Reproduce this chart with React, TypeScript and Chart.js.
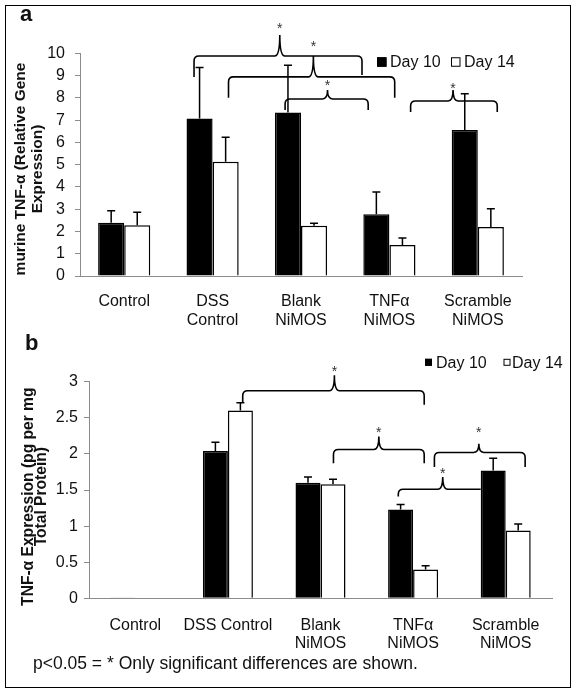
import React, { useEffect, useRef } from "react";
import { Chart, registerables } from "chart.js";

Chart.register(...registerables);

// ---------- data ----------
const seriesNames = ["Day 10", "Day 14"];

// panel a
const categoriesA = [["Control"], ["DSS", "Control"], ["Blank", "NiMOS"], ["TNFα", "NiMOS"], ["Scramble", "NiMOS"]];
const day10A = [2.39, 7.07, 7.34, 2.77, 6.56];
const day14A = [2.28, 5.13, 2.26, 1.39, 2.2];
const day10ErrA = [0.54, 2.29, 2.12, 1.0, 1.62];
const day14ErrA = [0.58, 1.1, 0.11, 0.32, 0.82];
const yTicksA = { min: 0, max: 10, step: 1 };
const yTitleA = ["murine TNF-α (Relative Gene", "Expression)"];

// significance brackets, panel a (x in category units, y in data units)
const brStartA = [0.79, 1.18, 1.82, 3.24];
const brEndA = [2.69, 3.06, 2.76, 4.22];
const brMidA = [1.76, 2.14, 2.3, 3.72];
const brLevelA = [9.88, 8.94, 7.95, 7.86];
const brFootStartA = [8.94, 8.0, 7.45, 7.36];
const brFootEndA = [9.03, 8.0, 7.45, 7.36];
const brPeakA = [10.82, 9.88, 8.35, 8.35];
const brStarA = [11.27, 10.46, 8.71, 8.58];

// panel b
const categoriesB = ["Control", "DSS Control", ["Blank", "NiMOS"], ["TNFα", "NiMOS"], ["Scramble", "NiMOS"]];
const day10B = [0.01, 2.04, 1.6, 1.23, 1.77];
const day14B = [0, 2.6, 1.58, 0.4, 0.94];
const day10ErrB = [0, 0.12, 0.08, 0.07, 0.17];
const day14ErrB = [0, 0.11, 0.07, 0.05, 0.09];
const yTicksB = { min: 0, max: 3, step: 0.5 };
const yTitleB = ["TNF-α Expression (pg per mg", "Total Protein)"];

const brStartB = [1.16, 2.14, 3.23, 2.84];
const brEndB = [3.12, 3.12, 4.21, 3.73];
const brMidB = [2.15, 2.63, 3.71, 3.32];
const brLevelB = [2.875, 2.06, 2.02, 1.51];
const brFootStartB = [2.72, 1.87, 1.82, 1.41];
const brFootEndB = [2.68, 1.87, 1.82, 1.51];
const brPeakB = [3.09, 2.24, 2.14, 1.68];
const brStarB = [3.19, 2.34, 2.34, 1.78];

const footnote = "p<0.05 = * Only significant differences are shown.";

// ---------- styling ----------
const FONT = '"Liberation Sans", Arial, Helvetica, sans-serif';
const AXIS_GRAY = "#8c8c8c";
const TEXT = "#111";

// ---------- plugin: error bars, brackets, legend, axis title ----------
const marksPlugin = {
  id: "marks",
  afterDraw(chart: any, _args: any, opts: any) {
    const ctx = chart.ctx;
    const xs = chart.scales.x;
    const ys = chart.scales.y;
    ctx.save();
    // error bars
    ctx.strokeStyle = "#000";
    ctx.lineWidth = 1.5;
    (opts.errors || []).forEach((errs: number[], di: number) => {
      const meta = chart.getDatasetMeta(di);
      const vals = chart.data.datasets[di].data as number[];
      meta.data.forEach((bar: any, i: number) => {
        const e = errs[i];
        if (!e) return;
        const x = bar.x;
        const y0 = ys.getPixelForValue(vals[i]);
        const y1 = ys.getPixelForValue(vals[i] + e);
        ctx.beginPath();
        ctx.moveTo(x, y0);
        ctx.lineTo(x, y1);
        ctx.moveTo(x - 4, y1);
        ctx.lineTo(x + 4, y1);
        ctx.stroke();
      });
    });
    // brackets
    const b = opts.brackets;
    if (b) {
      for (let k = 0; k < b.start.length; k++) {
        const x1 = xs.getPixelForValue(b.start[k]);
        const x2 = xs.getPixelForValue(b.end[k]);
        const xm = xs.getPixelForValue(b.mid[k]);
        const yl = ys.getPixelForValue(b.level[k]);
        const yf1 = ys.getPixelForValue(b.footStart[k]);
        const yf2 = ys.getPixelForValue(b.footEnd[k]);
        const yp = ys.getPixelForValue(b.peak[k]);
        const r1 = Math.min(5, Math.max(0, yf1 - yl));
        const r2 = Math.min(5, Math.max(0, yf2 - yl));
        const rc = 5;
        ctx.beginPath();
        ctx.lineWidth = 1.6;
        ctx.strokeStyle = "#000";
        ctx.moveTo(x1, yf1);
        ctx.lineTo(x1, yl + r1);
        ctx.quadraticCurveTo(x1, yl, x1 + r1, yl);
        ctx.lineTo(xm - rc, yl);
        ctx.quadraticCurveTo(xm, yl, xm, yp);
        ctx.quadraticCurveTo(xm, yl, xm + rc, yl);
        ctx.lineTo(x2 - r2, yl);
        ctx.quadraticCurveTo(x2, yl, x2, yl + r2);
        ctx.lineTo(x2, yf2);
        ctx.stroke();
        const fs = 14;
        ctx.font = `${fs}px ${FONT}`;
        ctx.fillStyle = "#333";
        ctx.textAlign = "center";
        ctx.textBaseline = "alphabetic";
        ctx.fillText("*", xm, ys.getPixelForValue(b.star[k]) + 0.57 * fs);
      }
    }
    // legend
    const lg = opts.legend;
    if (lg) {
      ctx.font = `${lg.fontSize}px ${FONT}`;
      ctx.textAlign = "left";
      ctx.textBaseline = "middle";
      chart.data.datasets.forEach((ds: any, i: number) => {
        const sx = lg.squareX[i];
        const s = lg.size;
        ctx.fillStyle = ds.backgroundColor;
        ctx.fillRect(sx, lg.y - s / 2, s, s);
        ctx.lineWidth = 1;
        ctx.strokeStyle = "#000";
        ctx.strokeRect(sx + 0.5, lg.y - s / 2 + 0.5, s - 1, s - 1);
        ctx.fillStyle = TEXT;
        ctx.fillText(ds.label, lg.textX[i], lg.y + 1);
      });
    }
    // y-axis title (rotated, multi-line)
    const t = opts.yTitle;
    if (t) {
      ctx.font = `bold ${t.fontSize}px ${FONT}`;
      ctx.fillStyle = TEXT;
      ctx.textAlign = "center";
      ctx.textBaseline = "middle";
      t.lines.forEach((line: string, i: number) => {
        ctx.save();
        ctx.translate(t.xs[i], t.yc);
        ctx.rotate(-Math.PI / 2);
        ctx.fillText(line, 0, 0);
        ctx.restore();
      });
    }
    ctx.restore();
  },
};

const fmtTick = (v: any) => String(Number(v));

function makeConfig(p: any) {
  return {
    type: "bar",
    data: {
      labels: p.labels,
      datasets: [
        {
          label: seriesNames[0],
          data: p.d10,
          backgroundColor: "#000",
          borderColor: "#000",
          borderWidth: 1.5,
          categoryPercentage: p.catPct,
          barPercentage: 1,
        },
        {
          label: seriesNames[1],
          data: p.d14,
          backgroundColor: "#fff",
          borderColor: "#000",
          borderWidth: 1.5,
          categoryPercentage: p.catPct,
          barPercentage: 1,
        },
      ],
    },
    options: {
      responsive: false,
      animation: false,
      events: [],
      layout: { padding: { top: p.padTop, left: 0, right: p.padRight, bottom: 0 } },
      plugins: {
        legend: { display: false },
        tooltip: { enabled: false },
        marks: { errors: [p.e10, p.e14], brackets: p.brackets, legend: p.legend, yTitle: p.yTitle },
      },
      scales: {
        x: {
          grid: { display: false },
          border: { display: true, color: AXIS_GRAY, width: 1 },
          ticks: {
            color: TEXT,
            font: { family: FONT, size: 16, lineHeight: 1.13 },
            padding: p.xPad,
            maxRotation: 0,
            autoSkip: false,
          },
          afterFit: (s: any) => {
            s.height = p.xHeight;
          },
        },
        y: {
          min: p.yTicks.min,
          max: p.yTicks.max,
          ticks: {
            stepSize: p.yTicks.step,
            color: TEXT,
            font: { family: FONT, size: 16 },
            padding: p.yPad,
            callback: fmtTick,
          },
          grid: { drawOnChartArea: false, drawTicks: true, tickLength: 5, color: AXIS_GRAY },
          border: { display: true, color: AXIS_GRAY, width: 1 },
          title: { display: false },
          afterFit: (s: any) => {
            s.width = p.yWidth;
          },
        },
      },
    },
  };
}

function ChartCanvas({ cfg, top, height }: { cfg: any; top: number; height: number }) {
  const ref = useRef<HTMLCanvasElement | null>(null);
  useEffect(() => {
    if (!ref.current) return;
    const chart = new Chart(ref.current, { ...cfg, plugins: [marksPlugin] });
    return () => chart.destroy();
  }, []);
  return (
    <canvas
      ref={ref}
      width={578}
      height={height}
      style={{ position: "absolute", left: 0, top, width: 578, height }}
    />
  );
}

const cfgA = makeConfig({
  labels: categoriesA,
  d10: day10A,
  d14: day14A,
  e10: day10ErrA,
  e14: day14ErrA,
  catPct: 0.59,
  padTop: 53.3,
  padRight: 56,
  xHeight: 69,
  xPad: 9,
  yPad: 10,
  yWidth: 80,
  yTicks: yTicksA,
  yTitle: { lines: yTitleA, xs: [21, 38], yc: 169, fontSize: 15.5 },
  brackets: {
    start: brStartA,
    end: brEndA,
    mid: brMidA,
    level: brLevelA,
    footStart: brFootStartA,
    footEnd: brFootEndA,
    peak: brPeakA,
    star: brStarA,
  },
  legend: { y: 62, size: 9.5, squareX: [377, 451], textX: [390, 464], fontSize: 16 },
});

const cfgB = makeConfig({
  labels: categoriesB,
  d10: day10B,
  d14: day14B,
  e10: day10ErrB,
  e14: day14ErrB,
  catPct: 0.54,
  padTop: 51.7,
  padRight: 26,
  xHeight: 96.7,
  xPad: 10,
  yPad: 6,
  yWidth: 89,
  yTicks: yTicksB,
  yTitle: { lines: yTitleB, xs: [28.5, 42], yc: 166.7, fontSize: 15.6 },
  brackets: {
    start: brStartB,
    end: brEndB,
    mid: brMidB,
    level: brLevelB,
    footStart: brFootStartB,
    footEnd: brFootEndB,
    peak: brPeakB,
    star: brStarB,
  },
  legend: { y: 32.3, size: 7, squareX: [425, 503.5], textX: [436, 512], fontSize: 16 },
});

export default function App() {
  return (
    <div
      style={{
        position: "absolute",
        left: 0,
        top: 0,
        width: 578,
        height: 695,
        background: "#fff",
        fontFamily: FONT,
        color: TEXT,
      }}
    >
      <ChartCanvas cfg={cfgA} top={0} height={345} />
      <ChartCanvas cfg={cfgB} top={330} height={365} />
      <div
        style={{
          position: "absolute",
          left: 5,
          top: 5,
          width: 566,
          height: 683,
          border: "1.5px solid #000",
          boxSizing: "border-box",
          pointerEvents: "none",
        }}
      />
      <div style={{ position: "absolute", left: 20, top: 3, font: `bold 22px ${FONT}`, lineHeight: "22px" }}>a</div>
      <div style={{ position: "absolute", left: 25, top: 332, font: `bold 22px ${FONT}`, lineHeight: "22px" }}>b</div>
      <div
        style={{
          position: "absolute",
          left: 33,
          top: 653,
          font: `17.5px ${FONT}`,
          lineHeight: "20px",
          whiteSpace: "nowrap",
        }}
      >
        {footnote}
      </div>
    </div>
  );
}
